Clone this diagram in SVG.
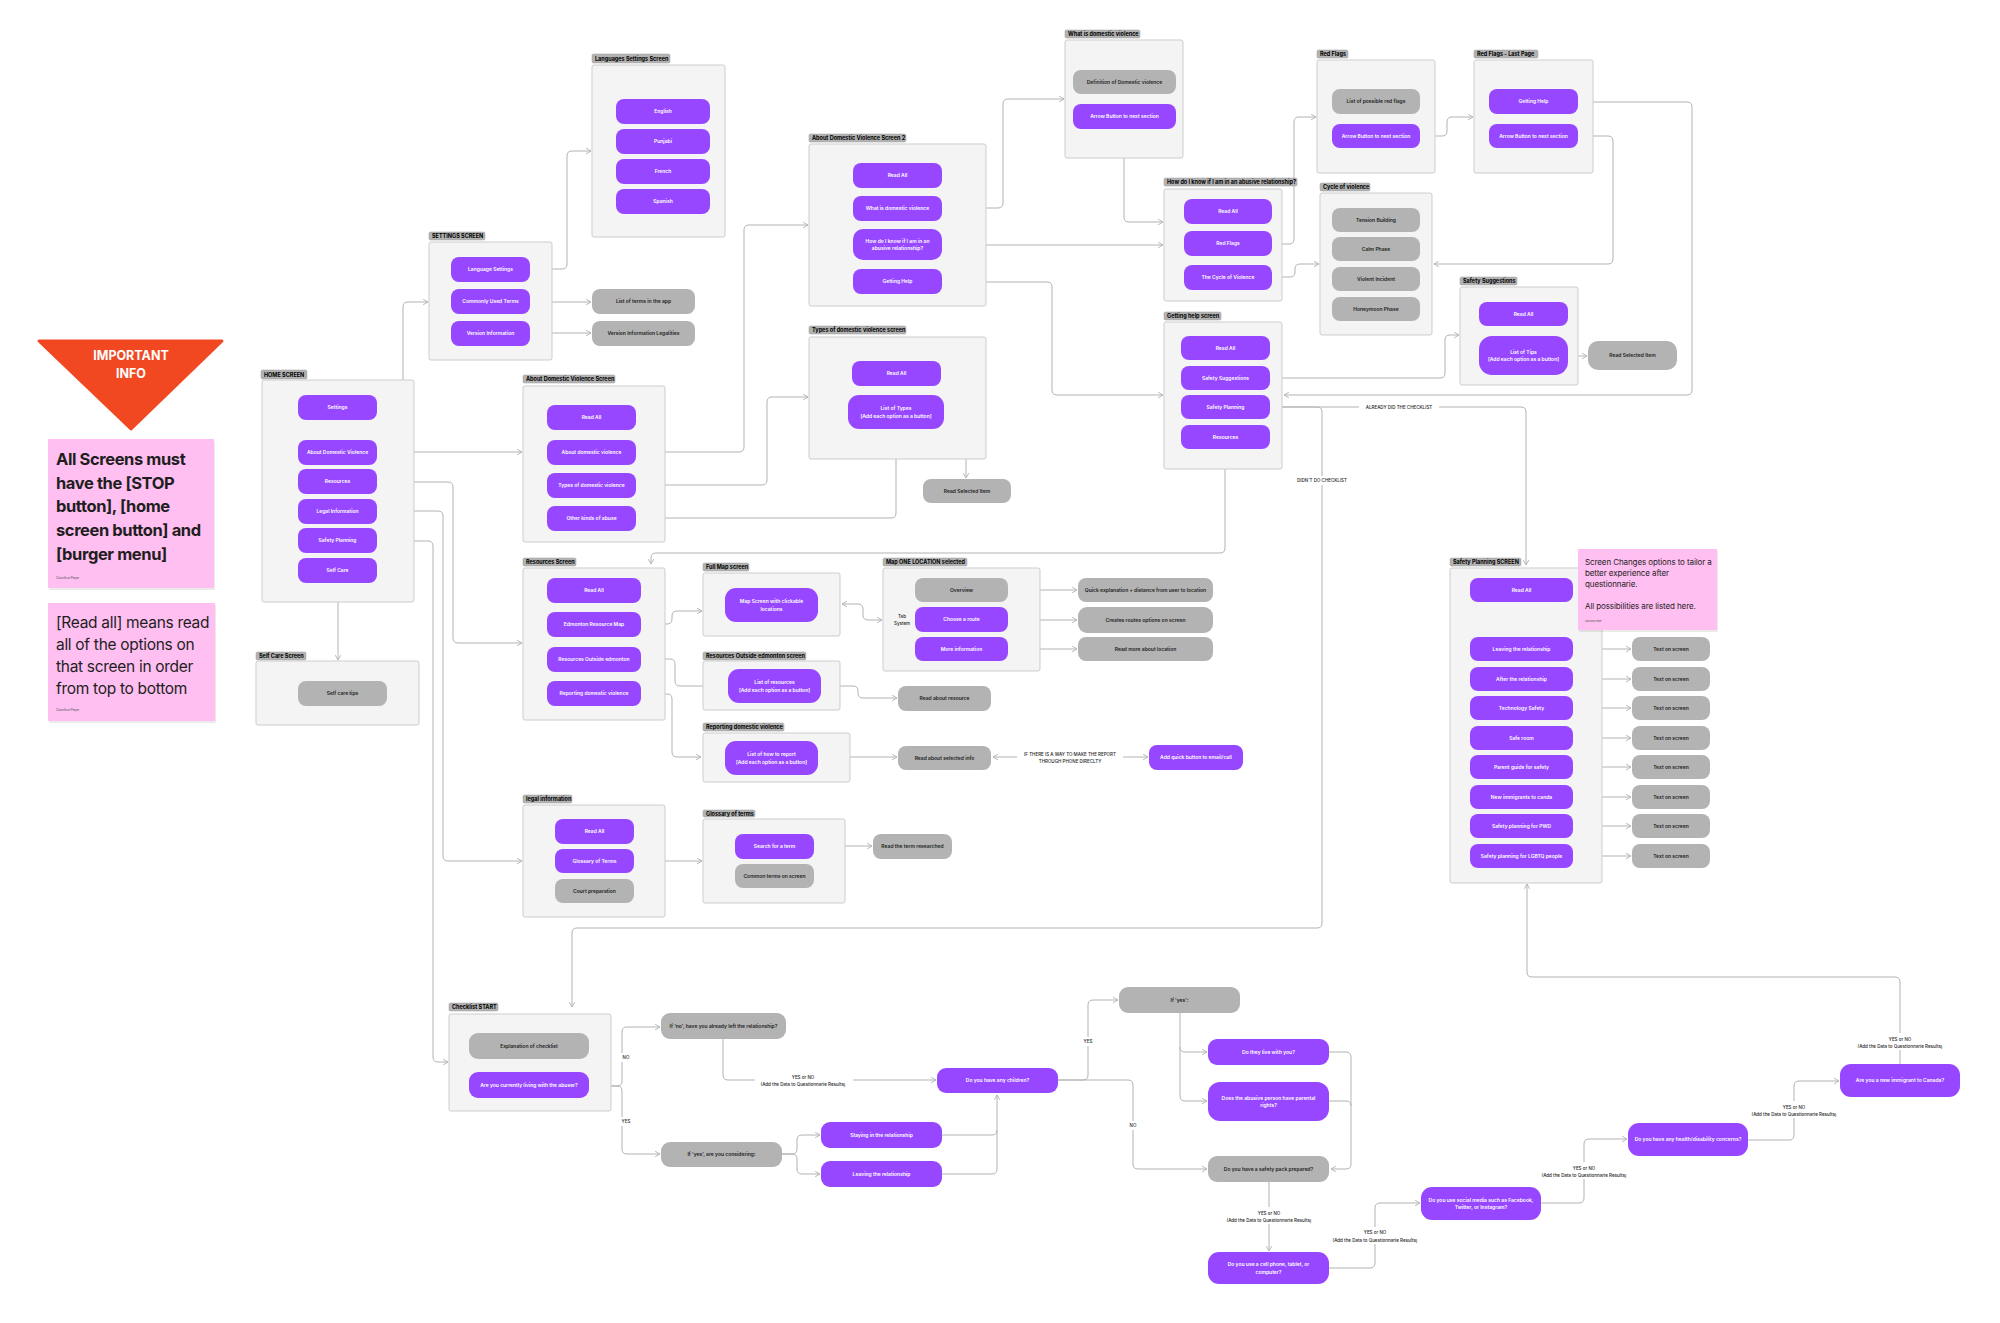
<svg xmlns="http://www.w3.org/2000/svg" width="2000" height="1323" viewBox="0 0 2000 1323">
<style>
.bx{fill:#F4F4F4;stroke:#CDCDCD;stroke-width:1}
.tg{fill:#B3B3B3;stroke:#9E9E9E;stroke-width:0.5}
.tt{font:700 5.5px Inter,"Liberation Sans",sans-serif;fill:#000}
.p{fill:#9747FF}
.g{fill:#B3B3B3}
.pt{font:600 5px Inter,"Liberation Sans",sans-serif;fill:#fff;text-anchor:middle}
.gt{font:600 5px Inter,"Liberation Sans",sans-serif;fill:#1E1E1E;text-anchor:middle}
.c{fill:none;stroke:#B3B3B3;stroke-width:1}
.ab{marker-start:url(#ah);marker-end:url(#ah)}
.ae{marker-end:url(#ah)}
.dash{stroke-dasharray:3 2}
.lb{font:500 4.5px Inter,"Liberation Sans",sans-serif;fill:#1E1E1E;text-anchor:middle}
.wb{fill:#fff}
.note{fill:#FFBFF1}
.sh{fill:#000;opacity:0.08}
.n1{font:700 16.5px Inter,"Liberation Sans",sans-serif;fill:#1E1E1E;letter-spacing:-0.4px}
.n2{font:400 15.5px Inter,"Liberation Sans",sans-serif;fill:#1E1E1E;letter-spacing:-0.3px}
.n3{font:400 8px Inter,"Liberation Sans",sans-serif;fill:#1E1E1E;letter-spacing:-0.1px}
.au{font:400 3.5px Inter,"Liberation Sans",sans-serif;fill:#555}
</style>
<defs>
<marker id="ah" viewBox="0 0 10 10" refX="9" refY="5" markerWidth="7" markerHeight="7" orient="auto-start-reverse" markerUnits="userSpaceOnUse"><path d="M2,1 L9,5 L2,9" fill="none" stroke="#B3B3B3" stroke-width="1.3"/></marker>
</defs>
<rect width="2000" height="1323" fill="#fff"/>

<!-- notes -->
<g id="important-info">
<polygon points="39,341 222,341 131,429" fill="#F24822" stroke="#F24822" stroke-width="3" stroke-linejoin="round"/>
<text x="131" y="360" text-anchor="middle" style="font:700 12.5px Inter,'Liberation Sans',sans-serif;fill:#fff">IMPORTANT</text>
<text x="131" y="378" text-anchor="middle" style="font:700 12.5px Inter,'Liberation Sans',sans-serif;fill:#fff">INFO</text>
</g>
<g id="note-all-screens">
<rect class="sh" x="49" y="441" width="166" height="149"/>
<rect class="note" x="48" y="439" width="166" height="149"/>
<text class="n1" x="56" y="465">All Screens must</text>
<text class="n1" x="56" y="489">have the [STOP</text>
<text class="n1" x="56" y="512">button], [home</text>
<text class="n1" x="56" y="536">screen button] and</text>
<text class="n1" x="56" y="560">[burger menu]</text>
<text class="au" x="56" y="578.5">Carolina Pepe</text>
</g>
<g id="note-read-all">
<rect class="sh" x="49" y="605" width="167" height="118"/>
<rect class="note" x="48" y="603" width="167" height="118"/>
<text class="n2" x="56" y="628">[Read all] means read</text>
<text class="n2" x="56" y="650">all of the options on</text>
<text class="n2" x="56" y="672">that screen in order</text>
<text class="n2" x="56" y="694">from top to bottom</text>
<text class="au" x="56" y="711">Carolina Pepe</text>
</g>

<!-- connectors -->
<g id="connectors">
<path class="c ab" d="M379,407 H398 Q403,407 403,402 V307 Q403,302 408,302 H428"/>
<path class="c ab" d="M532,269 H562 Q567,269 567,264 V156 Q567,151 572,151 H591"/>
<path class="c ae" d="M530,302 H591"/>
<path class="c ae" d="M530,333 H591"/>
<path class="c ab" d="M379,452 H522"/>
<path class="c ab" d="M379,482 H448 Q453,482 453,487 V638 Q453,643 458,643 H522"/>
<path class="c ab" d="M379,511 H438 Q443,511 443,516 V856 Q443,861 448,861 H522"/>
<path class="c ae" d="M377,541 H428 Q433,541 433,546 V1057 Q433,1062 438,1062 H448"/>
<path class="c ab" d="M338,584 V660"/>
<path class="c ab" d="M638,452 H739 Q744,452 744,447 V230 Q744,225 749,225 H808"/>
<path class="c ab" d="M638,485 H762 Q767,485 767,480 V402 Q767,397 772,397 H808"/>
<path class="c ab" d="M638,518 H891 Q896,518 896,513 V431"/>
<path class="c ab" d="M946,413 H961 Q966,413 966,418 V478"/>
<path class="c ab" d="M944,208 H998 Q1003,208 1003,203 V104 Q1003,99 1008,99 H1064"/>
<path class="c ab" d="M944,245 H1163"/>
<path class="c ab" d="M944,282 H1047 Q1052,282 1052,287 V390 Q1052,395 1057,395 H1163"/>
<path class="c ab" d="M1124,130 V217 Q1124,222 1129,222 H1163"/>
<path class="c ab" d="M1274,244 H1289 Q1294,244 1294,239 V122 Q1294,117 1299,117 H1316"/>
<path class="c ab" d="M1274,277 H1290 Q1295,277 1295,272 V269 Q1295,264 1300,264 H1319"/>
<path class="c ab" d="M1422,136 H1442 Q1447,136 1447,131 V122 Q1447,117 1452,117 H1473"/>
<path class="c ab" d="M1580,136 H1608 Q1613,136 1613,141 V259 Q1613,264 1608,264 H1434"/>
<path class="c ab" d="M1580,102 H1687 Q1692,102 1692,107 V390 Q1692,395 1687,395 H1284"/>
<path class="c ab" d="M1272,378 H1440 Q1445,378 1445,373 V340 Q1445,335 1450,335 H1459"/>
<path class="c ab" d="M1570,356 H1587"/>
<path class="c ae" d="M1270,407 H1521 Q1526,407 1526,412 V565"/>
<path class="c ae" d="M1270,407 H1317 Q1322,407 1322,412 V923 Q1322,928 1317,928 H577 Q572,928 572,933 V1007"/>
<path class="c ab" d="M1225,451 V548 Q1225,553 1220,553 H656 Q651,553 651,558 V564"/>
<path class="c ab" d="M643,624 H667 Q672,624 672,619 V616 Q672,611 677,611 H702"/>
<path class="c ab" d="M842,604 H858 Q863,604 863,609 V615 Q863,620 868,620 H882"/>
<path class="c ab" d="M1011,590 H1077"/>
<path class="c ab" d="M1011,620 H1077"/>
<path class="c ab" d="M1011,649 H1077"/>
<path class="c ae dash" d="M902,611 V595 Q902,590 907,590 H914"/>
<path class="c ae dash" d="M902,628 V644 Q902,649 907,649 H914"/>
<path class="c ab" d="M643,659 H670 Q675,659 675,664 V681 Q675,686 680,686 H727"/>
<path class="c ab" d="M822,686 H853 Q858,686 858,691 V693 Q858,698 863,698 H897"/>
<path class="c ab" d="M643,694 H667 Q672,694 672,699 V752 Q672,757 677,757 H701"/>
<path class="c ab" d="M820,757 H897"/>
<path class="c ab" d="M993,757 H1148"/>
<path class="c ab" d="M636,861 H702"/>
<path class="c ab" d="M816,846 H872"/>
<path class="c ab" d="M1575,649 H1631"/>
<path class="c ab" d="M1575,679 H1631"/>
<path class="c ab" d="M1575,708 H1631"/>
<path class="c ab" d="M1575,738 H1631"/>
<path class="c ab" d="M1575,767 H1631"/>
<path class="c ab" d="M1575,797 H1631"/>
<path class="c ab" d="M1575,826 H1631"/>
<path class="c ab" d="M1575,856 H1631"/>
<path class="c ae" d="M589,1086 H617 Q622,1086 622,1081 V1032 Q622,1027 627,1027 H660"/>
<path class="c ae" d="M589,1086 H617 Q622,1086 622,1091 V1149 Q622,1154 627,1154 H660"/>
<path class="c ae" d="M723,1039 V1075 Q723,1080 728,1080 H936"/>
<path class="c ae" d="M782,1154 H792 Q797,1154 797,1149 V1140 Q797,1135 802,1135 H820"/>
<path class="c ae" d="M782,1154 H792 Q797,1154 797,1159 V1169 Q797,1174 802,1174 H820"/>
<path class="c ae" d="M942,1135 H992 Q997,1135 997,1130 V1095"/>
<path class="c" d="M942,1174 H992 Q997,1174 997,1169 V1130"/>
<path class="c ae" d="M1058,1080 H1083 Q1088,1080 1088,1075 V1005 Q1088,1000 1093,1000 H1118"/>
<path class="c ae" d="M1058,1080 H1128 Q1133,1080 1133,1085 V1164 Q1133,1169 1138,1169 H1207"/>
<path class="c ae" d="M1180,1013 V1047 Q1180,1052 1185,1052 H1207"/>
<path class="c ae" d="M1180,1047 V1096 Q1180,1101 1185,1101 H1207"/>
<path class="c ae" d="M1329,1052 H1346 Q1351,1052 1351,1057 V1164 Q1351,1169 1346,1169 H1331"/>
<path class="c" d="M1329,1101 H1346 Q1351,1101 1351,1106"/>
<path class="c ae" d="M1269,1182 V1251"/>
<path class="c ae" d="M1329,1268 H1370 Q1375,1268 1375,1263 V1208 Q1375,1203 1380,1203 H1420"/>
<path class="c ae" d="M1541,1203 H1579 Q1584,1203 1584,1198 V1144 Q1584,1139 1589,1139 H1627"/>
<path class="c ae" d="M1748,1140 H1789 Q1794,1140 1794,1135 V1086 Q1794,1081 1799,1081 H1839"/>
<path class="c ae" d="M1900,1064 V982 Q1900,977 1895,977 H1532 Q1527,977 1527,972 V884"/>

<rect class="wb" x="1359" y="403" width="80" height="9"/>
<text class="lb" x="1399" y="409">ALREADY DID THE CHECKLIST</text>
<rect class="wb" x="1293" y="476" width="58" height="9"/>
<text class="lb" x="1322" y="482">DIDN'T DO CHECKLIST</text>
<rect class="wb" x="1017" y="749" width="106" height="16"/>
<text class="lb" x="1070" y="755.5">IF THERE IS A WAY TO MAKE THE REPORT</text>
<text class="lb" x="1070" y="763">THROUGH PHONE DIRECLTY</text>
<rect class="wb" x="619" y="1053" width="14" height="9"/>
<text class="lb" x="626" y="1059">NO</text>
<rect class="wb" x="619" y="1117" width="14" height="9"/>
<text class="lb" x="626" y="1123">YES</text>
<rect class="wb" x="755" y="1072" width="98" height="16"/>
<text class="lb" x="803" y="1078.5">YES or NO</text>
<text class="lb" x="803" y="1086">(Add the Data to Questionnarie Results)</text>
<rect class="wb" x="1081" y="1037" width="14" height="9"/>
<text class="lb" x="1088" y="1043">YES</text>
<rect class="wb" x="1126" y="1121" width="14" height="9"/>
<text class="lb" x="1133" y="1127">NO</text>
<rect class="wb" x="1220" y="1207" width="98" height="17"/>
<text class="lb" x="1269" y="1214.5">YES or NO</text>
<text class="lb" x="1269" y="1222">(Add the Data to Questionnarie Results)</text>
<rect class="wb" x="1326" y="1227" width="98" height="17"/>
<text class="lb" x="1375" y="1234">YES or NO</text>
<text class="lb" x="1375" y="1241.5">(Add the Data to Questionnarie Results)</text>
<rect class="wb" x="1535" y="1162" width="98" height="17"/>
<text class="lb" x="1584" y="1169.5">YES or NO</text>
<text class="lb" x="1584" y="1177">(Add the Data to Questionnarie Results)</text>
<rect class="wb" x="1745" y="1101" width="98" height="17"/>
<text class="lb" x="1794" y="1108.5">YES or NO</text>
<text class="lb" x="1794" y="1116">(Add the Data to Questionnarie Results)</text>
<rect class="wb" x="1851" y="1033" width="98" height="17"/>
<text class="lb" x="1900" y="1040.5">YES or NO</text>
<text class="lb" x="1900" y="1048">(Add the Data to Questionnarie Results)</text>
</g>

<!-- HOME -->
<g id="home-screen">
<rect class="tg" x="261" y="370" width="46" height="9" rx="1.5"/><text class="tt" x="264" y="376.5">HOME SCREEN</text>
<rect class="bx" x="262" y="380" width="152" height="222" rx="2"/>
<g id="home-settings"><rect class="p" x="298" y="395" width="79" height="25" rx="8"/><text class="pt" x="337.5" y="409.3">Settings</text></g>
<g id="home-about"><rect class="p" x="298" y="440" width="79" height="25" rx="8"/><text class="pt" x="337.5" y="454.3">About Domestic Violence</text></g>
<g id="home-resources"><rect class="p" x="298" y="469" width="79" height="25" rx="8"/><text class="pt" x="337.5" y="483.3">Resources</text></g>
<g id="home-legal"><rect class="p" x="298" y="499" width="79" height="25" rx="8"/><text class="pt" x="337.5" y="513.3">Legal Information</text></g>
<g id="home-safety"><rect class="p" x="298" y="528" width="79" height="25" rx="8"/><text class="pt" x="337.5" y="542.3">Safety Planning</text></g>
<g id="home-selfcare"><rect class="p" x="298" y="558" width="79" height="25" rx="8"/><text class="pt" x="337.5" y="572.3">Self Care</text></g>
</g>

<g id="settings-screen">
<rect class="tg" x="429" y="232" width="56" height="8" rx="1.5"/><text class="tt" x="432" y="238">SETTINGS SCREEN</text>
<rect class="bx" x="429" y="242" width="123" height="118" rx="2"/>
<g id="set-lang"><rect class="p" x="451" y="257" width="79" height="25" rx="8"/><text class="pt" x="490.5" y="271.3">Language Settings</text></g>
<g id="set-terms"><rect class="p" x="451" y="289" width="79" height="25" rx="8"/><text class="pt" x="490.5" y="303.3">Commonly Used Terms</text></g>
<g id="set-version"><rect class="p" x="451" y="321" width="79" height="25" rx="8"/><text class="pt" x="490.5" y="335.3">Version Information</text></g>
</g>
<g id="terms-list"><rect class="g" x="592" y="289" width="103" height="25" rx="8"/><text class="gt" x="643.5" y="303.3">List of terms in the app</text></g>
<g id="version-legal"><rect class="g" x="592" y="321" width="103" height="25" rx="8"/><text class="gt" x="643.5" y="335.3">Version Information Legalities</text></g>

<g id="lang-screen">
<rect class="tg" x="592" y="54" width="78" height="9" rx="1.5"/><text class="tt" x="595" y="60.5">Languages Settings Screen</text>
<rect class="bx" x="592" y="65" width="133" height="172" rx="2"/>
<g id="lang-en"><rect class="p" x="616" y="99" width="94" height="25" rx="8"/><text class="pt" x="663" y="113.3">English</text></g>
<g id="lang-pa"><rect class="p" x="616" y="129" width="94" height="25" rx="8"/><text class="pt" x="663" y="143.3">Punjabi</text></g>
<g id="lang-fr"><rect class="p" x="616" y="159" width="94" height="25" rx="8"/><text class="pt" x="663" y="173.3">French</text></g>
<g id="lang-es"><rect class="p" x="616" y="189" width="94" height="25" rx="8"/><text class="pt" x="663" y="203.3">Spanish</text></g>
</g>

<g id="selfcare-screen">
<rect class="tg" x="256" y="652" width="50" height="8" rx="1.5"/><text class="tt" x="259" y="658">Self Care Screen</text>
<rect class="bx" x="256" y="661" width="163" height="64" rx="2"/>
<g id="selfcare-tips"><rect class="g" x="298" y="681" width="89" height="25" rx="8"/><text class="gt" x="342.5" y="695.3">Self care tips</text></g>
</g>

<g id="adv-screen">
<rect class="tg" x="523" y="375" width="92" height="8" rx="1.5"/><text class="tt" x="526" y="381">About Domestic Violence Screen</text>
<rect class="bx" x="523" y="386" width="142" height="156" rx="2"/>
<g id="adv-readall"><rect class="p" x="547" y="405" width="89" height="25" rx="8"/><text class="pt" x="591.5" y="419.3">Read All</text></g>
<g id="adv-about"><rect class="p" x="547" y="440" width="89" height="25" rx="8"/><text class="pt" x="591.5" y="454.3">About domestic violence</text></g>
<g id="adv-types"><rect class="p" x="547" y="473" width="89" height="25" rx="8"/><text class="pt" x="591.5" y="487.3">Types of domestic violence</text></g>
<g id="adv-other"><rect class="p" x="547" y="506" width="89" height="25" rx="8"/><text class="pt" x="591.5" y="520.3">Other kinds of abuse</text></g>
</g>

<g id="adv2-screen">
<rect class="tg" x="809" y="134" width="97" height="8" rx="1.5"/><text class="tt" x="812" y="140">About Domestic Violence Screen 2</text>
<rect class="bx" x="809" y="144" width="177" height="162" rx="2"/>
<g id="adv2-readall"><rect class="p" x="853" y="163" width="89" height="25" rx="8"/><text class="pt" x="897.5" y="177.3">Read All</text></g>
<g id="adv2-what"><rect class="p" x="853" y="196" width="89" height="25" rx="8"/><text class="pt" x="897.5" y="210.3">What is domestic violence</text></g>
<g id="adv2-how"><rect class="p" x="853" y="229" width="89" height="31" rx="10"/><text class="pt" x="897.5" y="242.5">How do I know if I am in an</text><text class="pt" x="897.5" y="250.1">abusive relationship?</text></g>
<g id="adv2-help"><rect class="p" x="853" y="269" width="89" height="25" rx="8"/><text class="pt" x="897.5" y="283.3">Getting Help</text></g>
</g>

<g id="types-screen">
<rect class="tg" x="809" y="326" width="97" height="8" rx="1.5"/><text class="tt" x="812" y="332">Types of domestic violence screen</text>
<rect class="bx" x="809" y="337" width="177" height="122" rx="2"/>
<g id="types-readall"><rect class="p" x="852" y="361" width="89" height="25" rx="8"/><text class="pt" x="896.5" y="375.3">Read All</text></g>
<g id="types-list"><rect class="p" x="848" y="395" width="96" height="34" rx="11"/><text class="pt" x="896" y="410">List of Types</text><text class="pt" x="896" y="417.6">[Add each option as a button]</text></g>
</g>
<g id="types-read-selected"><rect class="g" x="923" y="479" width="88" height="24" rx="8"/><text class="gt" x="967" y="492.8">Read Selected Item</text></g>

<g id="widv-screen">
<rect class="tg" x="1065" y="30" width="75" height="8" rx="1.5"/><text class="tt" x="1068" y="36">What is domestic violence</text>
<rect class="bx" x="1065" y="40" width="118" height="118" rx="2"/>
<g id="widv-def"><rect class="g" x="1073" y="70" width="103" height="24" rx="8"/><text class="gt" x="1124.5" y="83.8">Definition of Domestic violence</text></g>
<g id="widv-next"><rect class="p" x="1073" y="104" width="103" height="25" rx="8"/><text class="pt" x="1124.5" y="118.3">Arrow Button to next section</text></g>
</g>

<g id="hdik-screen">
<rect class="tg" x="1164" y="178" width="133" height="8" rx="1.5"/><text class="tt" x="1167" y="184">How do I know if I am in an abusive relationship?</text>
<rect class="bx" x="1164" y="189" width="118" height="112" rx="2"/>
<g id="hdik-readall"><rect class="p" x="1184" y="199" width="88" height="25" rx="8"/><text class="pt" x="1228" y="213.3">Read All</text></g>
<g id="hdik-redflags"><rect class="p" x="1184" y="231" width="88" height="25" rx="8"/><text class="pt" x="1228" y="245.3">Red Flags</text></g>
<g id="hdik-cycle"><rect class="p" x="1184" y="265" width="88" height="25" rx="8"/><text class="pt" x="1228" y="279.3">The Cycle of Violence</text></g>
</g>

<g id="redflags-screen">
<rect class="tg" x="1317" y="50" width="31" height="8" rx="1.5"/><text class="tt" x="1320" y="56">Red Flags</text>
<rect class="bx" x="1317" y="60" width="118" height="113" rx="2"/>
<g id="rf-list"><rect class="g" x="1332" y="89" width="88" height="25" rx="8"/><text class="gt" x="1376" y="103.3">List of possible red flags</text></g>
<g id="rf-next"><rect class="p" x="1332" y="124" width="88" height="24" rx="8"/><text class="pt" x="1376" y="137.8">Arrow Button to next section</text></g>
</g>

<g id="rflast-screen">
<rect class="tg" x="1474" y="50" width="64" height="8" rx="1.5"/><text class="tt" x="1477" y="56">Red Flags - Last Page</text>
<rect class="bx" x="1474" y="60" width="119" height="113" rx="2"/>
<g id="rfl-help"><rect class="p" x="1489" y="89" width="89" height="25" rx="8"/><text class="pt" x="1533.5" y="103.3">Getting Help</text></g>
<g id="rfl-next"><rect class="p" x="1489" y="124" width="89" height="24" rx="8"/><text class="pt" x="1533.5" y="137.8">Arrow Button to next section</text></g>
</g>

<g id="cycle-screen">
<rect class="tg" x="1320" y="183" width="50" height="8" rx="1.5"/><text class="tt" x="1323" y="189">Cycle of violence</text>
<rect class="bx" x="1320" y="193" width="112" height="142" rx="2"/>
<g id="cyc-tension"><rect class="g" x="1332" y="208" width="88" height="24" rx="8"/><text class="gt" x="1376" y="221.8">Tension Building</text></g>
<g id="cyc-calm"><rect class="g" x="1332" y="237" width="88" height="24" rx="8"/><text class="gt" x="1376" y="250.8">Calm Phase</text></g>
<g id="cyc-violent"><rect class="g" x="1332" y="267" width="88" height="24" rx="8"/><text class="gt" x="1376" y="280.8">Violent Incident</text></g>
<g id="cyc-honey"><rect class="g" x="1332" y="297" width="88" height="24" rx="8"/><text class="gt" x="1376" y="310.8">Honeymoon Phase</text></g>
</g>

<g id="gh-screen">
<rect class="tg" x="1164" y="312" width="57" height="8" rx="1.5"/><text class="tt" x="1167" y="318">Getting help screen</text>
<rect class="bx" x="1164" y="322" width="118" height="147" rx="2"/>
<g id="gh-readall"><rect class="p" x="1181" y="336" width="89" height="24" rx="8"/><text class="pt" x="1225.5" y="349.8">Read All</text></g>
<g id="gh-sugg"><rect class="p" x="1181" y="366" width="89" height="24" rx="8"/><text class="pt" x="1225.5" y="379.8">Safety Suggestions</text></g>
<g id="gh-plan"><rect class="p" x="1181" y="395" width="89" height="24" rx="8"/><text class="pt" x="1225.5" y="408.8">Safety Planning</text></g>
<g id="gh-res"><rect class="p" x="1181" y="425" width="89" height="24" rx="8"/><text class="pt" x="1225.5" y="438.8">Resources</text></g>
</g>

<g id="ss-screen">
<rect class="tg" x="1460" y="277" width="57" height="8" rx="1.5"/><text class="tt" x="1463" y="283">Safety Suggestions</text>
<rect class="bx" x="1460" y="287" width="118" height="98" rx="2"/>
<g id="ss-readall"><rect class="p" x="1479" y="302" width="89" height="24" rx="8"/><text class="pt" x="1523.5" y="315.8">Read All</text></g>
<g id="ss-tips"><rect class="p" x="1479" y="336" width="89" height="39" rx="13"/><text class="pt" x="1523.5" y="353.5">List of Tips</text><text class="pt" x="1523.5" y="361.1">[Add each option as a button]</text></g>
</g>
<g id="ss-read-selected"><rect class="g" x="1588" y="341" width="89" height="29" rx="10"/><text class="gt" x="1632.5" y="357.3">Read Selected Item</text></g>

<g id="res-screen">
<rect class="tg" x="523" y="558" width="53" height="8" rx="1.5"/><text class="tt" x="526" y="564">Resources Screen</text>
<rect class="bx" x="523" y="568" width="142" height="152" rx="2"/>
<g id="res-readall"><rect class="p" x="547" y="578" width="94" height="25" rx="8"/><text class="pt" x="594" y="592.3">Read All</text></g>
<g id="res-map"><rect class="p" x="547" y="612" width="94" height="25" rx="8"/><text class="pt" x="594" y="626.3">Edmonton Resource Map</text></g>
<g id="res-outside"><rect class="p" x="547" y="647" width="94" height="25" rx="8"/><text class="pt" x="594" y="661.3">Resources Outside edmonton</text></g>
<g id="res-report"><rect class="p" x="547" y="681" width="94" height="25" rx="8"/><text class="pt" x="594" y="695.3">Reporting domestic violence</text></g>
</g>

<g id="fullmap-screen">
<rect class="tg" x="703" y="563" width="46" height="8" rx="1.5"/><text class="tt" x="706" y="569">Full Map screen</text>
<rect class="bx" x="703" y="573" width="137" height="63" rx="2"/>
<g id="fullmap-map"><rect class="p" x="725" y="588" width="93" height="34" rx="11"/><text class="pt" x="771.5" y="603">Map Screen with clickable</text><text class="pt" x="771.5" y="610.6">locations</text></g>
</g>

<g id="mapone-screen">
<rect class="tg" x="883" y="558" width="84" height="8" rx="1.5"/><text class="tt" x="886" y="564">Map ONE LOCATION selected</text>
<rect class="bx" x="883" y="568" width="157" height="103" rx="2"/>
<text class="lb" x="902" y="617.6">Tab</text><text class="lb" x="902" y="624.6">System</text>
<g id="map-overview"><rect class="g" x="915" y="578" width="93" height="24" rx="8"/><text class="gt" x="961.5" y="591.8">Overview</text></g>
<g id="map-route"><rect class="p" x="915" y="607" width="93" height="25" rx="8"/><text class="pt" x="961.5" y="621.3">Choose a route</text></g>
<g id="map-more"><rect class="p" x="915" y="637" width="93" height="24" rx="8"/><text class="pt" x="961.5" y="650.8">More information</text></g>
</g>
<g id="map-quick"><rect class="g" x="1078" y="578" width="135" height="24" rx="8"/><text class="gt" x="1145.5" y="591.8">Quick explanation + distance from user to location</text></g>
<g id="map-routes-opt"><rect class="g" x="1078" y="607" width="135" height="26" rx="9"/><text class="gt" x="1145.5" y="621.8">Creates routes options on screen</text></g>
<g id="map-readmore"><rect class="g" x="1078" y="637" width="135" height="24" rx="8"/><text class="gt" x="1145.5" y="650.8">Read more about location</text></g>

<g id="outside-screen">
<rect class="tg" x="703" y="652" width="103" height="8" rx="1.5"/><text class="tt" x="706" y="658">Resources Outside edmonton screen</text>
<rect class="bx" x="703" y="661" width="137" height="49" rx="2"/>
<g id="outside-list"><rect class="p" x="728" y="669" width="93" height="34" rx="11"/><text class="pt" x="774.5" y="684">List of resources</text><text class="pt" x="774.5" y="691.6">[Add each option as a button]</text></g>
</g>
<g id="outside-read"><rect class="g" x="898" y="686" width="93" height="25" rx="8"/><text class="gt" x="944.5" y="700.3">Read about resource</text></g>

<g id="report-screen">
<rect class="tg" x="703" y="723" width="81" height="8" rx="1.5"/><text class="tt" x="706" y="729">Reporting domestic violence</text>
<rect class="bx" x="703" y="733" width="147" height="49" rx="2"/>
<g id="report-list"><rect class="p" x="725" y="741" width="93" height="34" rx="11"/><text class="pt" x="771.5" y="756">List of how to report</text><text class="pt" x="771.5" y="763.6">[Add each option as a button]</text></g>
</g>
<g id="report-read"><rect class="g" x="898" y="746" width="93" height="24" rx="8"/><text class="gt" x="944.5" y="759.8">Read about selected info</text></g>
<g id="report-quick"><rect class="p" x="1149" y="745" width="94" height="25" rx="8"/><text class="pt" x="1196" y="759.3">Add quick button to email/call</text></g>

<g id="legal-screen">
<rect class="tg" x="523" y="795" width="49" height="8" rx="1.5"/><text class="tt" x="526" y="801">legal information</text>
<rect class="bx" x="523" y="805" width="142" height="112" rx="2"/>
<g id="legal-readall"><rect class="p" x="555" y="819" width="79" height="25" rx="8"/><text class="pt" x="594.5" y="833.3">Read All</text></g>
<g id="legal-glossary"><rect class="p" x="555" y="849" width="79" height="24" rx="8"/><text class="pt" x="594.5" y="862.8">Glossary of Terms</text></g>
<g id="legal-court"><rect class="g" x="555" y="879" width="79" height="24" rx="8"/><text class="gt" x="594.5" y="892.8">Court preparation</text></g>
</g>

<g id="glossary-screen">
<rect class="tg" x="703" y="810" width="52" height="7" rx="1.5"/><text class="tt" x="706" y="815.5">Glossary of terms</text>
<rect class="bx" x="703" y="819" width="142" height="84" rx="2"/>
<g id="gl-search"><rect class="p" x="735" y="834" width="79" height="25" rx="8"/><text class="pt" x="774.5" y="848.3">Search for a term</text></g>
<g id="gl-common"><rect class="g" x="735" y="864" width="79" height="24" rx="8"/><text class="gt" x="774.5" y="877.8">Common terms on screen</text></g>
</g>
<g id="gl-read"><rect class="g" x="873" y="834" width="79" height="25" rx="8"/><text class="gt" x="912.5" y="848.3">Read the term researched</text></g>

<g id="sp-screen">
<rect class="tg" x="1450" y="558" width="71" height="8" rx="1.5"/><text class="tt" x="1453" y="564">Safety Planning SCREEN</text>
<rect class="bx" x="1450" y="568" width="152" height="315" rx="2"/>
<g id="sp-readall"><rect class="p" x="1470" y="578" width="103" height="24" rx="8"/><text class="pt" x="1521.5" y="591.8">Read All</text></g>
<g id="sp-leaving"><rect class="p" x="1470" y="637" width="103" height="24" rx="8"/><text class="pt" x="1521.5" y="650.8">Leaving the relationship</text></g>
<g id="sp-after"><rect class="p" x="1470" y="667" width="103" height="24" rx="8"/><text class="pt" x="1521.5" y="680.8">After the relationship</text></g>
<g id="sp-tech"><rect class="p" x="1470" y="696" width="103" height="24" rx="8"/><text class="pt" x="1521.5" y="709.8">Technology Safety</text></g>
<g id="sp-saferoom"><rect class="p" x="1470" y="726" width="103" height="24" rx="8"/><text class="pt" x="1521.5" y="739.8">Safe room</text></g>
<g id="sp-parent"><rect class="p" x="1470" y="755" width="103" height="24" rx="8"/><text class="pt" x="1521.5" y="768.8">Parent guide for safety</text></g>
<g id="sp-immig"><rect class="p" x="1470" y="785" width="103" height="24" rx="8"/><text class="pt" x="1521.5" y="798.8">New immigrants to canda</text></g>
<g id="sp-pwd"><rect class="p" x="1470" y="814" width="103" height="24" rx="8"/><text class="pt" x="1521.5" y="827.8">Safety planning for PWD</text></g>
<g id="sp-lgbtq"><rect class="p" x="1470" y="844" width="103" height="24" rx="8"/><text class="pt" x="1521.5" y="857.8">Safety planning for LGBTQ people</text></g>
</g>
<g id="sp-texts">
<g id="sp-t1"><rect class="g" x="1632" y="637" width="78" height="24" rx="8"/><text class="gt" x="1671" y="650.8">Text on screen</text></g>
<g id="sp-t2"><rect class="g" x="1632" y="667" width="78" height="24" rx="8"/><text class="gt" x="1671" y="680.8">Text on screen</text></g>
<g id="sp-t3"><rect class="g" x="1632" y="696" width="78" height="24" rx="8"/><text class="gt" x="1671" y="709.8">Text on screen</text></g>
<g id="sp-t4"><rect class="g" x="1632" y="726" width="78" height="24" rx="8"/><text class="gt" x="1671" y="739.8">Text on screen</text></g>
<g id="sp-t5"><rect class="g" x="1632" y="755" width="78" height="24" rx="8"/><text class="gt" x="1671" y="768.8">Text on screen</text></g>
<g id="sp-t6"><rect class="g" x="1632" y="785" width="78" height="24" rx="8"/><text class="gt" x="1671" y="798.8">Text on screen</text></g>
<g id="sp-t7"><rect class="g" x="1632" y="814" width="78" height="24" rx="8"/><text class="gt" x="1671" y="827.8">Text on screen</text></g>
<g id="sp-t8"><rect class="g" x="1632" y="844" width="78" height="24" rx="8"/><text class="gt" x="1671" y="857.8">Text on screen</text></g>
</g>
<g id="note-screen-changes">
<rect class="sh" x="1579" y="551" width="139" height="81"/>
<rect class="note" x="1578" y="549" width="139" height="81"/>
<text class="n3" x="1585" y="565">Screen Changes options to tailor a</text>
<text class="n3" x="1585" y="576">better experience after</text>
<text class="n3" x="1585" y="587">questionnarie.</text>
<text class="n3" x="1585" y="609">All possibilities are listed here.</text>
<text class="au" x="1585" y="621.5" style="font-size:2.5px">Carolina Pepe</text>
</g>

<g id="checklist-screen">
<rect class="tg" x="449" y="1003" width="49" height="8" rx="1.5"/><text class="tt" x="452" y="1009">Checklist START</text>
<rect class="bx" x="449" y="1014" width="162" height="97" rx="2"/>
<g id="chk-explain"><rect class="g" x="469" y="1033" width="120" height="26" rx="9"/><text class="gt" x="529" y="1047.8">Explanation of checklist</text></g>
<g id="chk-living"><rect class="p" x="469" y="1072" width="120" height="26" rx="9"/><text class="pt" x="529" y="1086.8">Are you currently living with the abuser?</text></g>
</g>
<g id="q-left"><rect class="g" x="661" y="1013" width="125" height="26" rx="9"/><text class="gt" x="723.5" y="1027.8">If 'no', have you already left the relationship?</text></g>
<g id="q-considering"><rect class="g" x="661" y="1142" width="121" height="25" rx="9"/><text class="gt" x="721.5" y="1156.3">If 'yes', are you considering:</text></g>
<g id="q-staying"><rect class="p" x="821" y="1122" width="121" height="26" rx="9"/><text class="pt" x="881.5" y="1136.8">Staying in the relationship</text></g>
<g id="q-leaving"><rect class="p" x="821" y="1161" width="121" height="26" rx="9"/><text class="pt" x="881.5" y="1175.8">Leaving the relationship</text></g>
<g id="q-children"><rect class="p" x="937" y="1068" width="121" height="25" rx="9"/><text class="pt" x="997.5" y="1082.3">Do you have any children?</text></g>
<g id="q-ifyes"><rect class="g" x="1119" y="987" width="121" height="26" rx="9"/><text class="gt" x="1179.5" y="1001.8">If 'yes':</text></g>
<g id="q-livewith"><rect class="p" x="1208" y="1039" width="121" height="26" rx="9"/><text class="pt" x="1268.5" y="1053.8">Do they live with you?</text></g>
<g id="q-parental"><rect class="p" x="1208" y="1082" width="121" height="39" rx="12"/><text class="pt" x="1268.5" y="1099.5">Does the abusive person have parental</text><text class="pt" x="1268.5" y="1107.1">rights?</text></g>
<g id="q-pack"><rect class="g" x="1208" y="1156" width="121" height="26" rx="9"/><text class="gt" x="1268.5" y="1170.8">Do you have a safety pack prepared?</text></g>
<g id="q-phone"><rect class="p" x="1208" y="1252" width="121" height="32" rx="11"/><text class="pt" x="1268.5" y="1266">Do you use a cell phone, tablet, or</text><text class="pt" x="1268.5" y="1273.6">computer?</text></g>
<g id="q-social"><rect class="p" x="1421" y="1187" width="120" height="33" rx="11"/><text class="pt" x="1481" y="1201.5">Do you use social media such as Facebook,</text><text class="pt" x="1481" y="1209.1">Twitter, or Instagram?</text></g>
<g id="q-health"><rect class="p" x="1628" y="1123" width="120" height="33" rx="11"/><text class="pt" x="1688" y="1141.3">Do you have any health/disability concerns?</text></g>
<g id="q-immigrant"><rect class="p" x="1840" y="1064" width="120" height="33" rx="11"/><text class="pt" x="1900" y="1082.3">Are you a new immigrant to Canada?</text></g>
</svg>
